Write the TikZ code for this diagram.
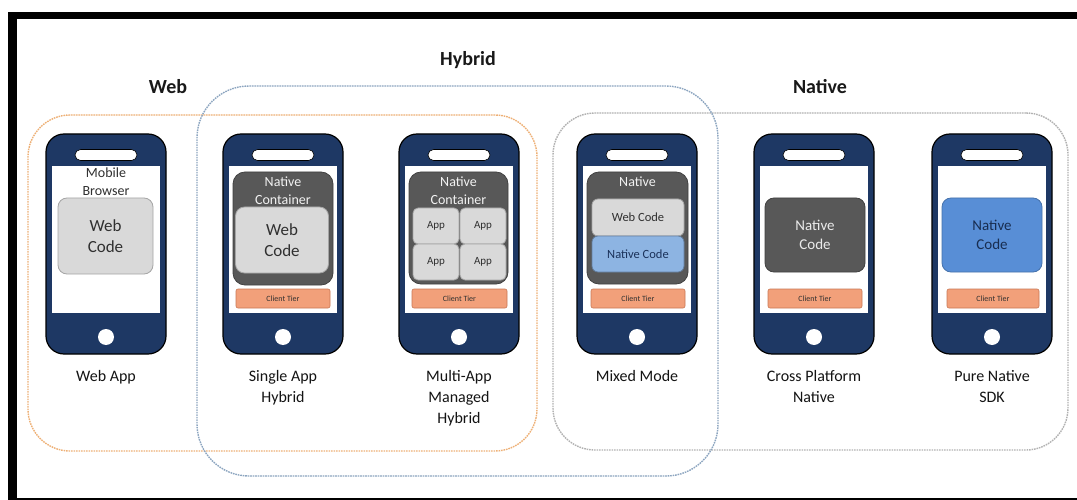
\documentclass[tikz,border=0pt]{standalone}
\usepackage{fontspec}
\setmainfont{Carlito}
\definecolor{navy}{RGB}{30,56,100}
\definecolor{boxgray}{RGB}{217,217,217}
\definecolor{boxline}{RGB}{165,165,165}
\definecolor{darkbox}{RGB}{88,88,88}
\definecolor{darkline}{RGB}{65,65,65}
\definecolor{lightblue}{RGB}{141,180,226}
\definecolor{midblue}{RGB}{88,142,214}
\definecolor{tier}{RGB}{242,160,122}
\definecolor{tierline}{RGB}{200,120,85}
\definecolor{txt}{RGB}{48,48,48}
\definecolor{weborange}{RGB}{238,176,118}
\definecolor{hybblue}{RGB}{140,165,192}
\definecolor{natgray}{RGB}{178,178,178}
\tikzset{
  phonebody/.style={rectangle, rounded corners=18pt, minimum width=120pt, minimum height=220pt,
    fill=navy, draw=black, line width=1.2pt, inner sep=0pt},
  screen/.style={rectangle, minimum width=108pt, minimum height=147pt, fill=white, inner sep=0pt},
  speaker/.style={rectangle, rounded corners=5.5pt, minimum width=62pt, minimum height=11pt,
    fill=white, draw=black, line width=0.6pt, inner sep=0pt},
  homebtn/.style={circle, minimum size=16pt, fill=white, inner sep=0pt},
  lightbox/.style={rectangle, rounded corners=9pt, fill=boxgray, draw=boxline, line width=0.8pt,
    inner sep=0pt, text=txt, align=center},
  darkcont/.style={rectangle, rounded corners=12pt, fill=darkbox, draw=darkline, line width=0.8pt, inner sep=0pt},
  tierbox/.style={rectangle, rounded corners=2pt, fill=tier, draw=tierline, line width=0.6pt,
    minimum height=19pt, inner sep=0pt, font=\fontsize{8}{9}\selectfont, text=txt},
  wtext/.style={text=white!95!black, align=center, font=\fontsize{14}{18}\selectfont},
  caption/.style={anchor=north, align=center, text=black!92, font=\fontsize{16}{21}\selectfont},
  header/.style={font=\bfseries\fontsize{20}{24}\selectfont, text=black!90},
  grp/.style={rectangle, line width=1.4pt, dash pattern=on 1.6pt off 0.9pt, inner sep=0pt}
}
\newcommand\mkphone[2]{%
  \node[phonebody] (#1) at (#2,244) {};
  \node[screen] (#1-scr) at (#2,239.5) {};
  \node[speaker] (#1-spk) at (#2,155) {};
  \node[homebtn] (#1-btn) at (#2,337) {};
}
\begin{document}
\begin{tikzpicture}[x=1pt,y=-1pt]
\useasboundingbox (0,0) rectangle (1077,500);
\fill[white] (0,0) rectangle (1077,500);

% frame
\fill[black] (8,12) rectangle (1077,19.5);
\fill[black] (8,12) rectangle (16.5,500);
\fill[black] (8,497.5) rectangle (1077,500);

% category outlines
\node[grp, draw=weborange, rounded corners=42pt, minimum width=509pt, minimum height=336pt] (webgrp) at (282.5,283) {};
\node[grp, draw=natgray, rounded corners=42pt, minimum width=515pt, minimum height=337pt] (natgrp) at (810.5,281.5) {};
\node[grp, draw=hybblue, rounded corners=52pt, minimum width=521pt, minimum height=390pt] (hybgrp) at (457.5,281) {};

% headers
\node[header] (hWeb) at (168,87) {Web};
\node[header] (hHyb) at (468,60) {Hybrid};
\node[header] (hNat) at (820,87) {Native};

% phones
\mkphone{p1}{106}
\mkphone{p2}{283}
\mkphone{p3}{459}
\mkphone{p4}{637}
\mkphone{p5}{814}
\mkphone{p6}{992}

% Web App
\node[text=txt, align=center, font=\fontsize{14}{18}\selectfont] (p1-mb) at (106,182) {Mobile\\Browser};
\node[lightbox, minimum width=95pt, minimum height=76pt, font=\fontsize{17}{21}\selectfont] (p1-wc) at (105.5,236) {Web\\Code};

% Single App Hybrid
\node[darkcont, minimum width=100pt, minimum height=113pt] (p2-nc) at (283,228.5) {};
\node[wtext] (p2-nct) at (283,191) {Native\\Container};
\node[lightbox, minimum width=93pt, minimum height=66pt, font=\fontsize{17}{21}\selectfont] (p2-wc) at (282,240) {Web\\Code};
\node[tierbox, minimum width=94pt] (p2-ct) at (283,298.5) {Client Tier};

% Multi-App Managed Hybrid
\node[darkcont, minimum width=99pt, minimum height=112pt] (p3-nc) at (458.5,228) {};
\node[wtext] (p3-nct) at (458.5,191) {Native\\Container};
\foreach \n/\cx/\cy in {a/436/226, b/483/226, c/436/262, d/483/262}
  \node[lightbox, rounded corners=5pt, minimum width=46pt, minimum height=36pt, font=\fontsize{11}{13}\selectfont] (p3-\n) at (\cx,\cy) {App};
\node[tierbox, minimum width=95pt] (p3-ct) at (459.5,298.5) {Client Tier};

% Mixed Mode
\node[darkcont, minimum width=101pt, minimum height=112pt] (p4-nc) at (637.5,228) {};
\node[wtext] (p4-nct) at (637.5,182) {Native};
\node[lightbox, rounded corners=6pt, minimum width=92pt, minimum height=37pt, font=\fontsize{12.5}{15}\selectfont] (p4-wc) at (638,217.5) {Web Code};
\node[lightbox, rounded corners=6pt, fill=lightblue, draw=lightblue!70!black, text=navy!90!black, minimum width=92pt, minimum height=36pt, font=\fontsize{12.5}{15}\selectfont] (p4-nat) at (638,254) {Native Code};
\node[tierbox, minimum width=94pt] (p4-ct) at (638,298.5) {Client Tier};

% Cross Platform Native
\node[lightbox, fill=darkbox, draw=darkline, text=white!92!black, minimum width=100pt, minimum height=74pt, font=\fontsize{15}{19}\selectfont] (p5-nc) at (815,235) {Native\\Code};
\node[tierbox, minimum width=94pt] (p5-ct) at (815,298.5) {Client Tier};

% Pure Native SDK
\node[lightbox, fill=midblue, draw=midblue!80!black, text=navy!80!black, minimum width=100pt, minimum height=74pt, font=\fontsize{15}{19}\selectfont] (p6-nc) at (992,235) {Native\\Code};
\node[tierbox, minimum width=92pt] (p6-ct) at (993,298.5) {Client Tier};

% captions
\node[caption] (c1) at (106,367) {Web App};
\node[caption] (c2) at (283,367) {Single App\\Hybrid};
\node[caption] (c3) at (459,367) {Multi-App\\Managed\\Hybrid};
\node[caption] (c4) at (637,367) {Mixed Mode};
\node[caption] (c5) at (814,367) {Cross Platform\\Native};
\node[caption] (c6) at (992,367) {Pure Native\\SDK};
\end{tikzpicture}
\end{document}
